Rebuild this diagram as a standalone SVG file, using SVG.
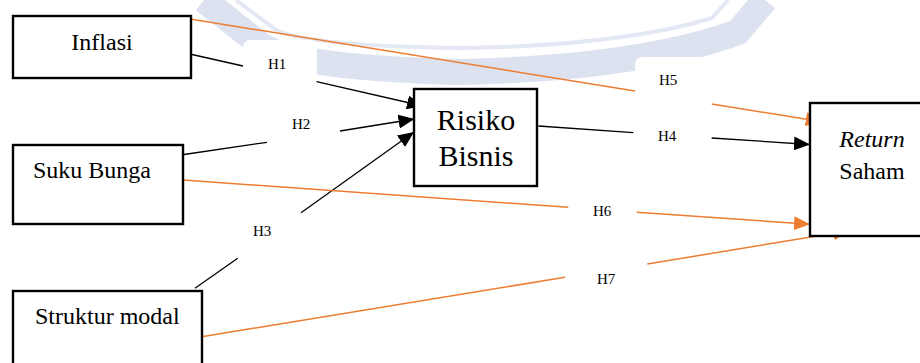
<svg xmlns="http://www.w3.org/2000/svg" width="920" height="363" viewBox="0 0 920 363">
<style>
.box{fill:#fff;stroke:#000;stroke-width:2.4}
.n{font-size:24px}
.lab{font-size:15px}
.blk{stroke:#000;stroke-width:1.3;fill:none}
.org{stroke:#ED7D31;stroke-width:1.5;fill:none}
.lbox{fill:#fff;stroke:none}
</style>
<defs>
<marker id="ab" markerUnits="userSpaceOnUse" markerWidth="16" markerHeight="14" refX="16" refY="7" orient="auto"><path d="M0,0 L16,7 L0,14 z" fill="#000"/></marker>
<marker id="ao" markerUnits="userSpaceOnUse" markerWidth="16" markerHeight="14" refX="16" refY="7" orient="auto"><path d="M0,0 L16,7 L0,14 z" fill="#ED7D31"/></marker>
</defs>
<rect width="920" height="363" fill="#fff"/>
<g id="watermark">
<path d="M204,0 L262,46 Q300,68 460,72 Q640,68 738,32 L765,0" fill="none" stroke="#dde2f1" stroke-width="26"/>
<path d="M236,0 L276,30 Q310,46 460,48 Q620,46 712,18 L728,0" fill="none" stroke="#e4e8f5" stroke-width="4"/>
</g>
<g id="label-boxes">
<rect class="lbox" x="243" y="40" width="74" height="45" rx="7"/>
<rect class="lbox" x="267" y="108" width="73" height="40" rx="7"/>
<rect class="lbox" x="238" y="214" width="63" height="42" rx="7"/>
<rect class="lbox" x="633" y="112" width="79" height="36" rx="7"/>
<rect class="lbox" x="635" y="57" width="76" height="46" rx="7"/>
<rect class="lbox" x="569" y="196" width="68" height="30" rx="7"/>
<rect class="lbox" x="565" y="260" width="82" height="36" rx="7"/>
</g>
<g id="connectors" font-family="'Liberation Serif', 'Times New Roman', serif">
<line class="blk" x1="192" y1="54.5" x2="243" y2="66"/>
<line class="blk" x1="316.5" y1="81.7" x2="423" y2="106" marker-end="url(#ab)"/>
<line class="blk" x1="184" y1="154.5" x2="267" y2="142.3"/>
<line class="blk" x1="340" y1="131" x2="414.5" y2="119" marker-end="url(#ab)"/>
<line class="blk" x1="195" y1="288.3" x2="237.7" y2="258.3"/>
<line class="blk" x1="301" y1="212.7" x2="414" y2="132" marker-end="url(#ab)"/>
<line class="blk" x1="538.3" y1="126" x2="633.3" y2="132.7"/>
<line class="blk" x1="711.7" y1="138" x2="810" y2="144.5" marker-end="url(#ab)"/>
<line class="org" x1="171.7" y1="16" x2="635" y2="91"/>
<line class="org" x1="711.7" y1="104" x2="821.7" y2="121.7" marker-end="url(#ao)"/>
<line class="org" x1="183.3" y1="180" x2="568.3" y2="207.3"/>
<line class="org" x1="636.7" y1="212.3" x2="810" y2="224.3" marker-end="url(#ao)"/>
<line class="org" x1="201.7" y1="336.7" x2="565" y2="277.3"/>
<line class="org" x1="647.3" y1="264" x2="849.3" y2="230.7" marker-end="url(#ao)"/>
<text class="lab" x="268" y="69">H1</text>
<text class="lab" x="292" y="129">H2</text>
<text class="lab" x="253" y="236">H3</text>
<text class="lab" x="658" y="141">H4</text>
<text class="lab" x="659" y="85">H5</text>
<text class="lab" x="593" y="216">H6</text>
<text class="lab" x="597" y="284">H7</text>
</g>
<g id="nodes" font-family="'Liberation Serif', 'Times New Roman', serif">
<g id="inflasi">
<rect class="box" x="13" y="16" width="178" height="62"/>
<text class="n" x="102" y="50" text-anchor="middle">Inflasi</text>
</g>
<g id="suku-bunga">
<rect class="box" x="13" y="145" width="170" height="79"/>
<text class="n" x="33" y="178">Suku Bunga</text>
</g>
<g id="struktur-modal">
<rect class="box" x="13" y="291" width="189" height="80"/>
<text class="n" x="35" y="324">Struktur modal</text>
</g>
<g id="risiko-bisnis">
<rect class="box" x="414" y="89" width="123" height="97"/>
<text font-size="30" x="476" y="130" text-anchor="middle">Risiko</text>
<text font-size="30" x="476" y="166" text-anchor="middle">Bisnis</text>
</g>
<g id="return-saham">
<rect class="box" x="810" y="103" width="120" height="133"/>
<text class="n" x="872" y="147" text-anchor="middle" font-style="italic">Return</text>
<text class="n" x="872" y="179" text-anchor="middle">Saham</text>
</g>
</g>
</svg>
